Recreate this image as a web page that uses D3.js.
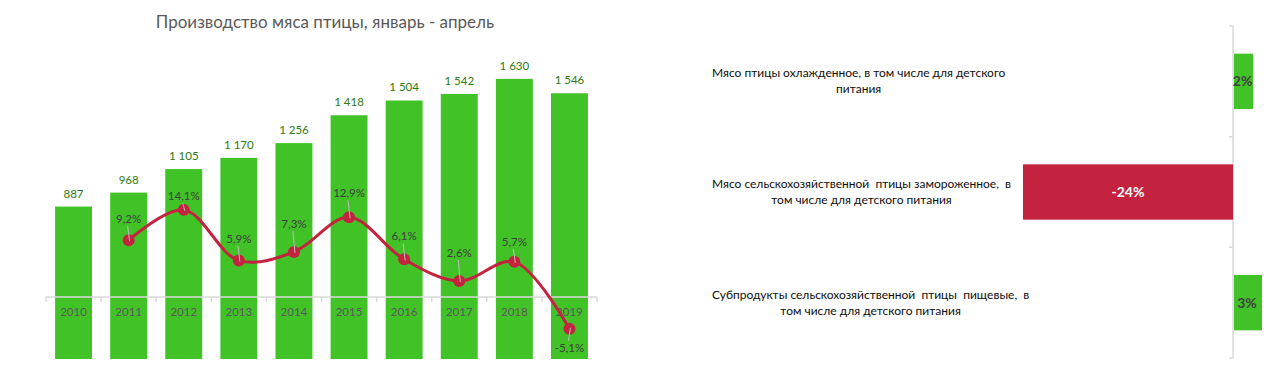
<!DOCTYPE html>
<html>
<head>
<meta charset="utf-8">
<script src="https://cdn.jsdelivr.net/npm/d3@7"></script>
<style>
  body { margin: 0; background: #fff; }
  text { font-family: Lato, "Open Sans", sans-serif; }
</style>
</head>
<body>
<script>
// data
const years = ["2010", "2011", "2012", "2013", "2014", "2015", "2016", "2017", "2018", "2019"];
const production = [887, 968, 1105, 1170, 1256, 1418, 1504, 1542, 1630, 1546];
const growth = [null, 9.2, 14.1, 5.9, 7.3, 12.9, 6.1, 2.6, 5.7, -5.1];
// vertical shift of the growth labels from their markers (as moved by hand in the original)
const growthLabelDy = [0, -21, -14, -22, -28, -24, -23, -28, -20, 19];

const products = [
  ["Мясо птицы охлажденное, в том числе для детского", "питания"],
  ["Мясо сельскохозяйственной  птицы замороженное,  в", "том числе для детского питания"],
  ["Субпродукты сельскохозяйственной  птицы  пищевые,  в", "том числе для детского питания"]
];
const productChange = [2.2, -24, 3.2];

const green = "#41c226";
const red = "#c4233f";
const axisGrey = "#d9d9d9";

// plain hyphen for negatives, comma as decimal mark
const fmtPct1 = v => d3.format(".1f")(v).replace("−", "-").replace(".", ",") + "%";
const fmtPct0 = v => d3.format(".0f")(v).replace("−", "-") + "%";
const fmtThousands = v => d3.format(",")(v).replace(",", " ");

const svg = d3.select("body").append("svg")
    .attr("width", 1278)
    .attr("height", 375);

// ---------- left chart: production + growth ----------

const x = d3.scaleBand()
    .domain(years)
    .range([46, 597])
    .paddingInner(0.33)
    .paddingOuter(0.165);

const yBar = d3.scaleLinear().domain([0, 1800]).range([359, 49.6]);
const yLine = d3.scaleLinear().domain([-10, 40]).range([359, 49.6]);

svg.append("text")
    .attr("x", 325)
    .attr("y", 28)
    .attr("text-anchor", "middle")
    .attr("fill", "#595959")
    .style("font-size", "17px")
    .text("Производство мяса птицы, январь - апрель");

// bars
svg.append("g").selectAll("rect")
    .data(production)
    .join("rect")
    .attr("x", (d, i) => x(years[i]))
    .attr("width", x.bandwidth())
    .attr("y", d => yBar(d))
    .attr("height", d => yBar(0) - yBar(d))
    .attr("fill", green);

// bar labels
svg.append("g").selectAll("text")
    .data(production)
    .join("text")
    .attr("x", (d, i) => x(years[i]) + x.bandwidth() / 2)
    .attr("y", d => yBar(d) - 9)
    .attr("text-anchor", "middle")
    .attr("fill", "#2b7a12")
    .style("font-size", "11.5px")
    .text(fmtThousands);

// category axis on the growth zero line
const step = x.step();
const axisG = svg.append("g");
axisG.append("line")
    .attr("x1", 46).attr("x2", 597)
    .attr("y1", yLine(0)).attr("y2", yLine(0))
    .attr("stroke", axisGrey).attr("stroke-width", 1.5);
axisG.selectAll("line.tick")
    .data(d3.range(years.length + 1))
    .join("line")
    .attr("class", "tick")
    .attr("x1", i => 46 + i * step).attr("x2", i => 46 + i * step)
    .attr("y1", yLine(0)).attr("y2", yLine(0) + 5)
    .attr("stroke", axisGrey).attr("stroke-width", 1.5);
axisG.selectAll("text")
    .data(years)
    .join("text")
    .attr("x", d => x(d) + x.bandwidth() / 2)
    .attr("y", yLine(0) + 19)
    .attr("text-anchor", "middle")
    .attr("fill", "#595959")
    .style("font-size", "11.5px")
    .text(d => d);

// growth line
const pts = growth.map((g, i) => ({g: g, i: i, cx: x(years[i]) + x.bandwidth() / 2}))
    .filter(d => d.g !== null);

const line = d3.line()
    .x(d => d.cx)
    .y(d => yLine(d.g))
    .curve(d3.curveCatmullRom.alpha(0.5));

svg.append("path")
    .datum(pts)
    .attr("d", line)
    .attr("fill", "none")
    .attr("stroke", red)
    .attr("stroke-width", 3);

svg.append("g").selectAll("circle")
    .data(pts)
    .join("circle")
    .attr("cx", d => d.cx)
    .attr("cy", d => yLine(d.g))
    .attr("r", 6)
    .attr("fill", red);

// leader lines
svg.append("g").selectAll("line")
    .data(pts)
    .join("line")
    .attr("x1", d => d.cx + 1)
    .attr("y1", d => yLine(d.g) + (growthLabelDy[d.i] < 0 ? 1 : -1))
    .attr("x2", d => d.cx - 1)
    .attr("y2", d => yLine(d.g) + growthLabelDy[d.i] + (growthLabelDy[d.i] < 0 ? 7 : -7))
    .attr("stroke", "#bfbfbf")
    .attr("stroke-width", 1);

svg.append("g").selectAll("text")
    .data(pts)
    .join("text")
    .attr("x", d => d.cx)
    .attr("y", d => yLine(d.g) + growthLabelDy[d.i] + 4)
    .attr("text-anchor", "middle")
    .attr("fill", "#404040")
    .style("font-size", "11.5px")
    .text(d => fmtPct1(d.g));

// ---------- right chart: change by product ----------

const xr = d3.scaleLinear().domain([-24, 0]).range([1023, 1233]);
const yr = d3.scaleBand()
    .domain(d3.range(products.length))
    .range([26, 358])
    .paddingInner(0.5)
    .paddingOuter(0.25);

const rAxis = svg.append("g");
rAxis.append("line")
    .attr("x1", xr(0)).attr("x2", xr(0))
    .attr("y1", 26).attr("y2", 358)
    .attr("stroke", axisGrey).attr("stroke-width", 1.5);
rAxis.selectAll("line.tick")
    .data(d3.range(products.length + 1))
    .join("line")
    .attr("class", "tick")
    .attr("x1", xr(0) - 4).attr("x2", xr(0))
    .attr("y1", i => 26 + i * yr.step()).attr("y2", i => 26 + i * yr.step())
    .attr("stroke", axisGrey).attr("stroke-width", 1.5);

svg.append("g").selectAll("rect")
    .data(productChange)
    .join("rect")
    .attr("x", d => xr(Math.min(0, d)) + (d > 0 ? 1 : 0))
    .attr("width", d => Math.abs(xr(d) - xr(0)))
    .attr("y", (d, i) => yr(i))
    .attr("height", yr.bandwidth())
    .attr("fill", d => d < 0 ? red : green);

svg.append("g").selectAll("text")
    .data(productChange)
    .join("text")
    .attr("x", d => (xr(d) + xr(0)) / 2)
    .attr("y", (d, i) => yr(i) + yr.bandwidth() / 2 + 5)
    .attr("text-anchor", "middle")
    .attr("fill", d => d < 0 ? "#fff" : "#404040")
    .style("font-size", "14px")
    .style("font-weight", "bold")
    .text(fmtPct0);

// category labels: first line starts at a fixed x, second line centred under it
const labelG = svg.append("g").selectAll("g")
    .data(products)
    .join("g");

labelG.each(function(lines, i) {
  const g = d3.select(this);
  const cy = yr(i) + yr.bandwidth() / 2;
  const first = g.append("text")
      .attr("x", 712)
      .attr("y", cy - 4)
      .attr("fill", "#0d0d0d")
      .style("font-size", "12px")
      .style("white-space", "pre")
      .text(lines[0]);
  const w = first.node().getComputedTextLength();
  g.append("text")
      .attr("x", 712 + w / 2)
      .attr("y", cy + 12)
      .attr("text-anchor", "middle")
      .attr("fill", "#0d0d0d")
      .style("font-size", "12px")
      .text(lines[1]);
});
</script>
</body>
</html>
